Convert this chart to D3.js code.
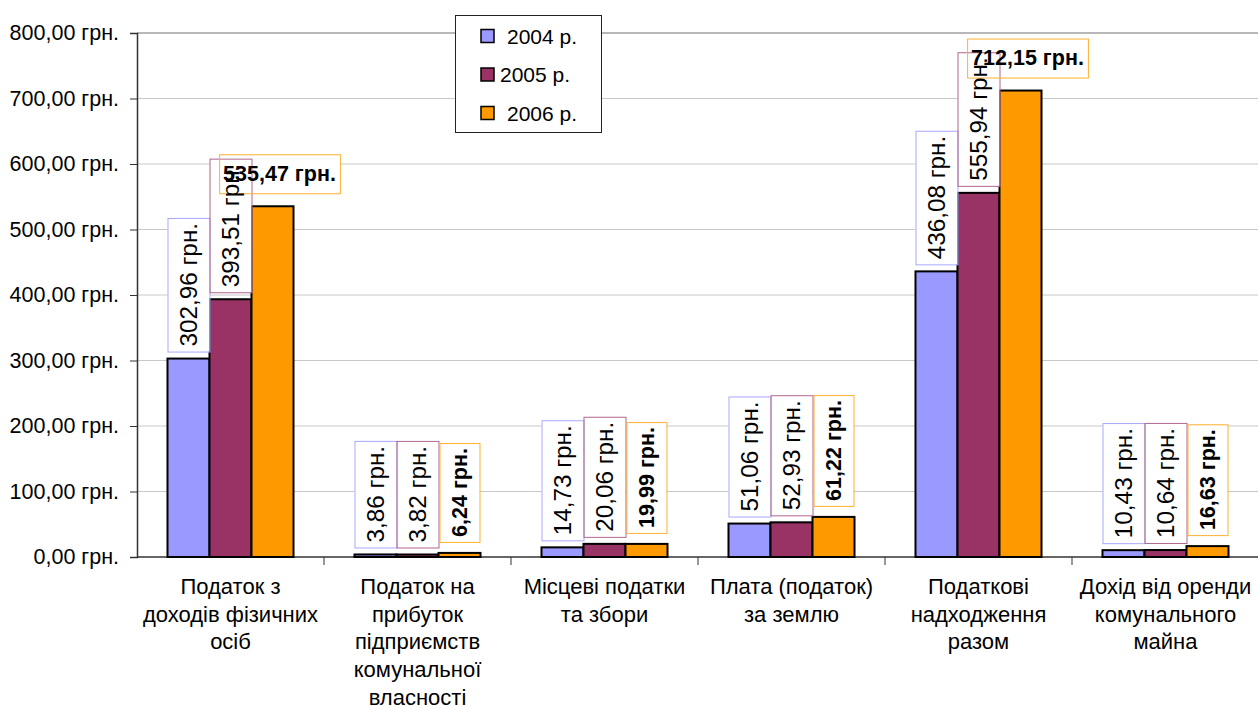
<!DOCTYPE html>
<html>
<head>
<meta charset="utf-8">
<script src="https://cdn.jsdelivr.net/npm/d3@7"></script>
<style>
  body { margin: 0; background: #fff; }
  svg { display: block; font-family: Arial, "Liberation Sans", sans-serif; }
</style>
</head>
<body>
<svg id="chart" width="1258" height="709"></svg>
<script>
// Tax revenues per person, 2004-2006
const categories = [
  'Податок з доходів фізичних осіб',
  'Податок на прибуток підприємств комунальної власності',
  'Місцеві податки та збори',
  'Плата (податок) за землю',
  'Податкові надходження разом',
  'Дохід від оренди комунального майна'
];
// how the category text is broken into lines under the axis
const categoryLines = [
  ['Податок з', 'доходів фізичних', 'осіб'],
  ['Податок на', 'прибуток', 'підприємств', 'комунальної', 'власності'],
  ['Місцеві податки', 'та збори'],
  ['Плата (податок)', 'за землю'],
  ['Податкові', 'надходження', 'разом'],
  ['Дохід від оренди', 'комунального', 'майна']
];
const seriesNames = ['2004 р.', '2005 р.', '2006 р.'];
const values2004 = [302.96, 3.86, 14.73, 51.06, 436.08, 10.43];
const values2005 = [393.51, 3.82, 20.06, 52.93, 555.94, 10.64];
const values2006 = [535.47, 6.24, 19.99, 61.22, 712.15, 16.63];
const yTicks = [0, 100, 200, 300, 400, 500, 600, 700, 800];

const seriesValues = [values2004, values2005, values2006];
const colors = ['#9999FF', '#993366', '#FF9900'];
const labelBorders = ['#A8A8FF', '#B0668C', '#FFB030'];

const svg = d3.select('#chart');
const plotLeft = 137, plotRight = 1259, plotTop = 33, plotBottom = 557;

const x0 = d3.scaleBand().domain(categories).range([plotLeft, plotRight]).paddingInner(0).paddingOuter(0);
const x1 = d3.scaleBand().domain(seriesNames).range([0, x0.bandwidth()]).paddingInner(0).paddingOuter(0.726);
const y = d3.scaleLinear().domain([0, 800]).range([plotBottom, plotTop]);

const fmt = v => d3.format('.2f')(v).replace('.', ',') + ' грн.';

// Gridlines
svg.append('g')
  .selectAll('line')
  .data(yTicks.filter(t => t > 0))
  .join('line')
  .attr('x1', plotLeft).attr('x2', 1258)
  .attr('y1', d => y(d)).attr('y2', d => y(d))
  .attr('stroke', d => d === 800 ? '#b8b8b8' : '#c8c8c8')
  .attr('stroke-width', d => d === 800 ? 2 : 1);

// Y axis
const yAxis = svg.append('g')
  .attr('transform', `translate(${plotLeft},0)`)
  .call(d3.axisLeft(y).tickValues(yTicks).tickSize(7).tickPadding(11)
    .tickFormat(d => d3.format('.2f')(d).replace('.', ',') + ' грн.'));
yAxis.select('.domain').attr('stroke', '#333').attr('stroke-width', 1.5);
yAxis.selectAll('.tick line').attr('stroke', '#333');
yAxis.selectAll('.tick text')
  .attr('font-size', 21.5).attr('fill', '#000')
  .attr('font-family', 'Arial, "Liberation Sans", sans-serif');

// X axis line and category separators
svg.append('line')
  .attr('x1', plotLeft).attr('x2', 1258).attr('y1', plotBottom).attr('y2', plotBottom)
  .attr('stroke', '#333').attr('stroke-width', 1.5);
svg.append('g')
  .selectAll('line')
  .data(categories.slice(1))
  .join('line')
  .attr('x1', d => x0(d)).attr('x2', d => x0(d))
  .attr('y1', plotBottom).attr('y2', plotBottom + 8)
  .attr('stroke', '#333');

// Category labels
const catG = svg.append('g');
categories.forEach((c, i) => {
  const t = catG.append('text')
    .attr('x', x0(c) + x0.bandwidth() / 2)
    .attr('y', 595)
    .attr('text-anchor', 'middle')
    .attr('font-size', 22);
  categoryLines[i].forEach((line, j) => {
    t.append('tspan')
      .attr('x', x0(c) + x0.bandwidth() / 2)
      .attr('y', 594 + j * 27.7)
      .text(line);
  });
});

// Bars
seriesNames.forEach((s, si) => {
  svg.append('g')
    .selectAll('rect')
    .data(categories)
    .join('rect')
    .attr('x', (c) => x0(c) + x1(s))
    .attr('y', (c, i) => y(seriesValues[si][i]))
    .attr('width', x1.bandwidth())
    .attr('height', (c, i) => y(0) - y(seriesValues[si][i]))
    .attr('fill', colors[si])
    .attr('stroke', '#000')
    .attr('stroke-width', 2);
});

// Data labels: white boxes under, borders + text over
const fillLayer = svg.append('g');
const labelLayer = svg.append('g');
const horizontalLabel = (si, i) => si === 2 && (i === 0 || i === 4);

seriesNames.forEach((s, si) => {
  categories.forEach((c, i) => {
    const v = seriesValues[si][i];
    const cx = x0(c) + x1(s) + x1.bandwidth() / 2;
    const barTop = y(v);
    const bold = si === 2;
    const text = labelLayer.append('text')
      .attr('font-size', bold ? 21.5 : 24.3)
      .attr('font-weight', bold ? 'bold' : 'normal')
      .attr('text-anchor', 'middle')
      .attr('dominant-baseline', 'central')
      .text(fmt(v));
    const len = text.node().getComputedTextLength();
    let bx, by, bw, bh;
    if (horizontalLabel(si, i)) {
      bw = len + 8; bh = 39;
      bx = cx + 7 - bw / 2; by = barTop - 13 - bh;
      text.attr('x', bx + bw / 2).attr('y', by + bh / 2);
    } else {
      bw = bold ? 40 : 42; bh = len + 10;
      bx = cx - bw / 2; by = barTop - (bold ? 11 : 7) - bh;
      text.attr('transform', `translate(${bx + bw / 2},${by + bh / 2}) rotate(-90)`);
    }
    fillLayer.append('rect')
      .attr('x', bx).attr('y', by).attr('width', bw).attr('height', bh)
      .attr('fill', '#fff');
    labelLayer.insert('rect', 'text')
      .attr('x', bx + 0.5).attr('y', by + 0.5).attr('width', bw).attr('height', bh)
      .attr('fill', 'none')
      .attr('stroke', labelBorders[si]).attr('stroke-width', 1);
  });
});

// Legend
const legend = svg.append('g');
legend.append('rect')
  .attr('x', 455.5).attr('y', 15.5).attr('width', 146).attr('height', 117)
  .attr('fill', '#fff').attr('stroke', '#222').attr('stroke-width', 1);
seriesNames.forEach((s, si) => {
  const ly = 36 + si * 38.5;
  legend.append('rect')
    .attr('x', 481).attr('y', ly - 6.5).attr('width', 13).attr('height', 13)
    .attr('fill', colors[si]).attr('stroke', '#000').attr('stroke-width', 1.5);
  legend.append('text')
    .attr('x', si === 1 ? 500 : 507).attr('y', ly)
    .attr('dominant-baseline', 'central')
    .attr('font-size', 21)
    .text(s);
});
</script>
</body>
</html>
